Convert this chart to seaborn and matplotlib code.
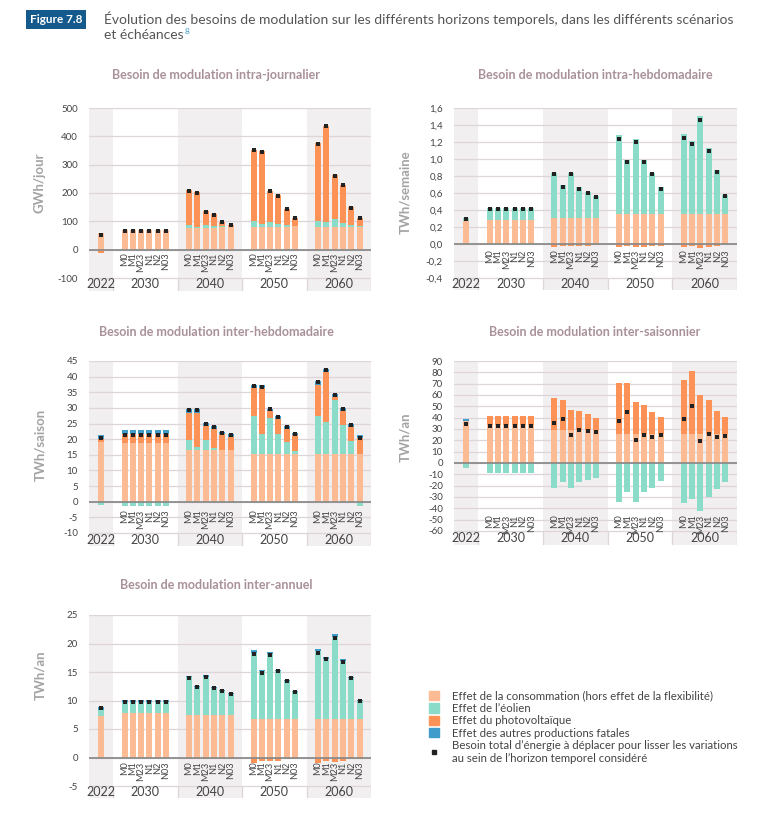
import numpy as np
import matplotlib
matplotlib.use("Agg")
import matplotlib.pyplot as plt
from matplotlib.patches import Patch
from matplotlib.lines import Line2D
import seaborn as sns

# Categories
years = ["2022", "2030", "2040", "2050", "2060"]
scenarios = ["M0", "M1", "M23", "N1", "N2", "N03"]

# Besoin intra-journalier (GWh/jour) : 2022, puis 6 scenarios x 2030/2040/2050/2060
intraj_conso = [60, 71, 71, 71, 71, 71, 71, 78, 78, 78, 78, 80, 82,
                80, 80, 80, 80, 80, 82, 80, 80, 80, 80, 80, 80]
intraj_eolien = [0, 0, 0, 0, 0, 0, 0, 10, 3, 10, 5, 3, 0,
                 22, 12, 18, 12, 8, 2, 22, 17, 30, 15, 8, 2]
intraj_pv = [-11, 0, 0, 0, 0, 0, 0, 122, 122, 47, 43, 15, 6,
             250, 256, 110, 101, 57, 28, 273, 340, 152, 135, 62, 30]
intraj_autres = [0] * 25
intraj_total = [50, 67, 67, 67, 67, 67, 67, 208, 201, 133, 124, 96, 86,
                350, 346, 206, 191, 143, 110, 373, 435, 260, 228, 148, 110]

# Besoin intra-hebdomadaire (TWh/semaine)
intrah_conso = [0.27, 0.28, 0.28, 0.28, 0.28, 0.28, 0.28, 0.31, 0.31, 0.31, 0.31, 0.31, 0.31,
                0.35, 0.35, 0.35, 0.35, 0.35, 0.35, 0.35, 0.35, 0.35, 0.35, 0.35, 0.35]
intrah_eolien = [0.04, 0.14, 0.14, 0.14, 0.14, 0.14, 0.14, 0.53, 0.38, 0.53, 0.36, 0.30, 0.25,
                 0.93, 0.64, 0.89, 0.64, 0.49, 0.32, 0.94, 0.86, 1.16, 0.78, 0.52, 0.23]
intrah_pv = [0, 0, 0, 0, 0, 0, 0, -0.03, -0.02, -0.02, -0.02, -0.02, -0.01,
             -0.04, -0.02, -0.03, -0.03, -0.02, -0.02, -0.04, -0.02, -0.05, -0.03, -0.02, 0]
intrah_autres = [0] * 25
intrah_total = [0.30, 0.41, 0.41, 0.41, 0.41, 0.41, 0.41, 0.82, 0.67, 0.82, 0.65, 0.60, 0.55,
                1.24, 0.97, 1.20, 0.96, 0.82, 0.65, 1.25, 1.18, 1.46, 1.10, 0.85, 0.56]

# Besoin inter-hebdomadaire (TWh/saison)
interh_conso = [19.0, 18.8, 18.8, 18.8, 18.8, 18.8, 18.8, 16.5, 16.5, 16.5, 16.5, 16.5, 16.5,
                15.3, 15.3, 15.3, 15.3, 15.3, 15.3, 15.3, 15.3, 15.3, 15.3, 15.3, 15.3]
interh_eolien = [-1.0, -1.5, -1.5, -1.5, -1.5, -1.5, -1.5, 3.2, 1.0, 3.3, 0.8, 0, -0.3,
                 12.0, 6.2, 11.4, 6.2, 3.7, 0.9, 12.2, 10.3, 17.1, 9.1, 4.2, -1.3]
interh_pv = [1.2, 2.7, 2.7, 2.7, 2.7, 2.7, 2.7, 8.8, 11.0, 4.5, 6.1, 5.0, 4.3,
             9.0, 14.8, 2.3, 5.0, 4.2, 5.0, 9.9, 15.9, 1.1, 4.6, 4.3, 5.0]
interh_autres = [1.0, 1.3, 1.3, 1.3, 1.3, 1.3, 1.3, 1.2, 1.1, 0.9, 0.9, 0.9, 0.9,
                 1.0, 0.9, 0.8, 1.0, 1.0, 0.9, 1.1, 1.1, 0.9, 1.0, 1.0, 1.0]
interh_total = [20.3, 21.3, 21.3, 21.3, 21.3, 21.3, 21.3, 29.3, 29.2, 24.8, 24.0, 22.1, 21.4,
                37.0, 36.8, 29.5, 27.2, 23.9, 21.7, 38.2, 42.2, 34.0, 29.7, 24.5, 20.3]

# Besoin inter-saisonnier (TWh/an)
inters_conso = [37.2, 33.5, 33.5, 33.5, 33.5, 33.5, 33.5, 29.3, 29.3, 29.3, 29.3, 29.3, 29.3,
                26, 26, 26, 26, 26, 26, 26, 26, 26, 26, 26, 26]
inters_eolien = [-4, -8.5, -8.5, -8.5, -8.5, -8.5, -8.5, -22, -17, -22, -17, -15, -13,
                 -34, -26, -34, -26, -22, -16, -35, -32, -42, -30, -23, -17]
inters_pv = [0, 8, 8, 8, 8, 8, 8, 27.7, 26.7, 17.7, 16.7, 13.7, 10.7,
             45, 45, 28, 25, 19, 14.5, 47.5, 55, 34, 30, 19.5, 14.5]
inters_autres = [1.5] + [0] * 24
inters_total = [34.7, 33, 33, 33, 33, 33, 33, 35, 39, 25, 29, 28, 27,
                37, 45, 20, 25, 23, 25, 39, 50, 19, 26, 23, 24]

# Besoin inter-annuel (TWh/an)
intera_conso = [7.3, 7.8, 7.8, 7.8, 7.8, 7.8, 7.8, 7.4, 7.4, 7.4, 7.4, 7.4, 7.4,
                6.7, 6.7, 6.7, 6.7, 6.7, 6.7, 6.7, 6.7, 6.7, 6.7, 6.7, 6.7]
intera_eolien = [1.0, 2.0, 2.0, 2.0, 2.0, 2.0, 2.0, 6.7, 4.9, 6.8, 4.8, 4.2, 3.7,
                 11.7, 8.5, 11.4, 8.5, 6.7, 4.8, 11.9, 10.6, 14.5, 10.2, 7.3, 3.2]
intera_pv = [0, -0.15, -0.15, -0.15, -0.15, -0.15, -0.15, -0.2, -0.2, -0.2, -0.2, -0.2, -0.2,
             -0.9, -0.6, -0.7, -0.6, -0.3, -0.2, -0.9, -0.7, -0.8, -0.6, -0.3, -0.2]
intera_autres = [0.5, 0.3, 0.3, 0.3, 0.3, 0.3, 0.3, 0.2, 0.2, 0.2, 0.2, 0.2, 0.2,
                 0.4, 0.2, 0.4, 0.2, 0.2, 0.2, 0.4, 0.4, 0.4, 0.4, 0.2, 0.2]
intera_total = [8.6, 9.8, 9.8, 9.8, 9.8, 9.8, 9.8, 14.0, 12.3, 14.1, 12.2, 11.6, 11.1,
                18.1, 14.9, 18.0, 15.1, 13.4, 11.5, 18.3, 17.2, 21.0, 16.8, 14.0, 9.9]

legend_labels = [
    "Effet de la consommation (hors effet de la flexibilité)",
    "Effet de l’éolien",
    "Effet du photovoltaïque",
    "Effet des autres productions fatales",
    "Besoin total d’énergie à déplacer pour lisser les variations\nau sein de l’horizon temporel considéré",
]

C_CONSO = "#fdbb93"
C_EOLIEN = "#8adbc7"
C_PV = "#fc9256"
C_AUTRES = "#3f9ccb"
C_BAND = "#f2eff1"
C_GRID = "#ddd5d9"
C_TITLE = "#a99199"
C_YLAB = "#a3a3a3"
C_TEXT = "#444444"

sns.set_theme(style="white")
plt.rcParams["font.family"] = ["Lato", "Open Sans", "DejaVu Sans"]

W, H = 780, 827
fig = plt.figure(figsize=(W / 100, H / 100), dpi=100)

# layout of the x axis, in pixels
BAND_W = [24, 64.5, 64.5, 64.5, 64.5]
SLOT = 8.3
BAR_W = 6.0
band_start = np.concatenate([[0], np.cumsum(BAND_W)[:-1]])
band_center = band_start + np.array(BAND_W) / 2
xpos = [band_center[0]]
for c in band_center[1:]:
    xpos += [c + (i - 2.5) * SLOT for i in range(6)]
xpos = np.array(xpos)


def fmt_tick(v, dec):
    if dec == 0:
        return f"{v:.0f}"
    return f"{v:.{dec}f}".replace(".", ",")


def draw_panel(box, title, title_xy, ylabel, ylabel_xy, comps, total, yticks, dec, label_y):
    left, right, top, ymin_px, bottom = box
    ax = fig.add_axes([left / W, 1 - bottom / H, (right - left) / W, (bottom - top) / H])
    ymin, ymax = yticks[0], yticks[-1]
    strip = (bottom - ymin_px) * (ymax - ymin) / (ymin_px - top)
    y0 = ymin - strip
    ax.set_xlim(0, sum(BAND_W))
    ax.set_ylim(y0, ymax)

    for i, (s, w) in enumerate(zip(band_start, BAND_W)):
        if i % 2 == 0:
            ax.axvspan(s, s + w, color=C_BAND, lw=0, zorder=0)
    for t in yticks:
        ax.axhline(t, color=C_GRID, lw=0.9, zorder=1)
    ax.vlines(list(band_start[1:]) + [sum(BAND_W)], y0, ymin, color=C_GRID, lw=0.9, zorder=1)

    pos_b = np.zeros(len(xpos))
    neg_b = np.zeros(len(xpos))
    for vals, col in comps:
        v = np.array(vals, dtype=float)
        p = np.clip(v, 0, None)
        n = np.clip(v, None, 0)
        ax.bar(xpos, p, bottom=pos_b, width=BAR_W, color=col, lw=0, zorder=2)
        ax.bar(xpos, n, bottom=neg_b, width=BAR_W, color=col, lw=0, zorder=2)
        pos_b += p
        neg_b += n
    ax.axhline(0, color="#8c8c8c", lw=1.3, zorder=3)

    sns.scatterplot(x=xpos, y=total, marker="s", color="#222222", s=9,
                    linewidth=0, ax=ax, zorder=5, legend=False)

    for k, x in enumerate(xpos[1:]):
        ax.annotate(scenarios[k % 6], (x, label_y), xytext=(0, -2), textcoords="offset points",
                    rotation=90, ha="center", va="top", fontsize=6.6, color=C_TEXT)
    for c, yr in zip(band_center, years):
        ax.text(c, (y0 + ymin) / 2, yr, ha="center", va="center", fontsize=9, color=C_TEXT)

    ax.set_yticks(yticks)
    ax.set_yticklabels([fmt_tick(t, dec) for t in yticks])
    ax.set_xticks([])
    ax.tick_params(axis="y", length=0, labelsize=7, colors=C_TEXT, pad=8)
    for sp in ax.spines.values():
        sp.set_visible(False)

    fig.text(title_xy[0] / W, 1 - title_xy[1] / H, title, ha="center", va="center",
             fontsize=9, fontweight="bold", color=C_TITLE)
    fig.text(ylabel_xy[0] / W, 1 - ylabel_xy[1] / H, ylabel, ha="center", va="center",
             rotation=90, fontsize=9.5, fontweight="bold", color=C_YLAB)
    return ax


def stack(conso, eolien, pv, autres):
    return [(conso, C_CONSO), (eolien, C_EOLIEN), (pv, C_PV), (autres, C_AUTRES)]


draw_panel((89, 371, 108, 278, 291), "Besoin de modulation intra-journalier", (216, 75),
           "GWh/jour", (40, 183), stack(intraj_conso, intraj_eolien, intraj_pv, intraj_autres),
           intraj_total, list(range(-100, 501, 100)), 0, 0)
draw_panel((454, 737, 108, 278, 290), "Besoin de modulation intra-hebdomadaire", (595, 75),
           "TWh/semaine", (405, 192), stack(intrah_conso, intrah_eolien, intrah_pv, intrah_autres),
           intrah_total, [round(-0.4 + 0.2 * i, 1) for i in range(11)], 1, -0.03)
draw_panel((89, 371, 361, 533, 546), "Besoin de modulation inter-hebdomadaire", (216, 332),
           "TWh/saison", (40, 445), stack(interh_conso, interh_eolien, interh_pv, interh_autres),
           interh_total, list(range(-10, 46, 5)), 0, -1.6)
draw_panel((454, 737, 361, 531, 545), "Besoin de modulation inter-saisonnier", (595, 332),
           "TWh/an", (405, 437), stack(inters_conso, inters_eolien, inters_pv, inters_autres),
           inters_total, list(range(-60, 91, 10)), 0, -43)
draw_panel((89, 371, 615, 786, 798), "Besoin de modulation inter-annuel", (216, 585),
           "TWh/an", (40, 675), stack(intera_conso, intera_eolien, intera_pv, intera_autres),
           intera_total, list(range(-5, 26, 5)), 0, -0.2)

# legend
handles = [Patch(color=C_CONSO), Patch(color=C_EOLIEN), Patch(color=C_PV), Patch(color=C_AUTRES),
           Line2D([], [], marker="s", color="#222222", ls="none", markersize=3)]
fig.legend(handles, legend_labels, loc="upper left", bbox_to_anchor=(424 / W, 1 - 686 / H),
           frameon=False, fontsize=8.2, handlelength=0.9, handleheight=0.9,
           handletextpad=1.2, labelspacing=0.12, borderaxespad=0, labelcolor=C_TEXT)

# header
fig.text(30 / W, 1 - 19.5 / H, "Figure 7.8", ha="left", va="center", fontsize=8.5,
         fontweight="bold", color="white",
         bbox=dict(boxstyle="square,pad=0.3", fc="#145a8c", ec="none"))
fig.text(104 / W, 1 - 19 / H,
         "Évolution des besoins de modulation sur les différents horizons temporels, dans les différents scénarios",
         ha="left", va="center", fontsize=10, color="#555555")
t2 = fig.text(104 / W, 1 - 35 / H, "et échéances", ha="left", va="center", fontsize=10, color="#555555")
r = fig.canvas.get_renderer()
bb = t2.get_window_extent(renderer=r)
fig.text(bb.x1 / W + 0.001, 1 - 31 / H, "8", ha="left", va="center", fontsize=6,
         color="#3f9ccb")

fig.savefig("out.png", dpi=100)
